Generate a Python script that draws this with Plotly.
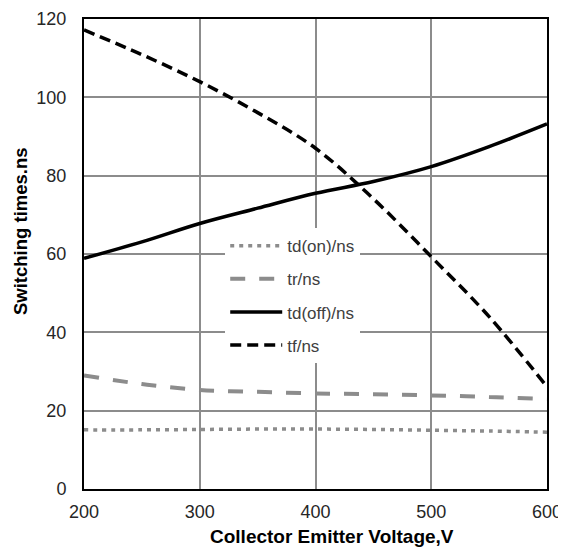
import plotly.graph_objects as go

voltage = [200, 250, 300, 350, 400, 450, 500, 550, 600]
td_on = [15.1, 15.1, 15.2, 15.3, 15.3, 15.2, 15.0, 14.8, 14.5]
tr = [29.0, 26.8, 25.3, 24.8, 24.4, 24.2, 23.9, 23.5, 23.0]
td_off = [58.9, 63.1, 67.8, 71.7, 75.5, 78.5, 82.3, 87.4, 93.2]
tf = [117.2, 110.9, 104.0, 96.1, 87.0, 74.1, 59.3, 44.0, 26.1]

x_title = "Collector Emitter Voltage,V"
y_title = "Switching times.ns"

series = [
    ("td(on)/ns", td_on, "#8c8c8c", "4px,5px", 3.5),
    ("tr/ns", tr, "#8c8c8c", "15px,14px", 4),
    ("td(off)/ns", td_off, "#000000", "solid", 3.5),
    ("tf/ns", tf, "#000000", "11px,6px", 3.5),
]

fig = go.Figure()
for i, (name, vals, color, dash, w) in enumerate(series):
    fig.add_trace(go.Scatter(
        x=voltage, y=vals, name=name, mode="lines",
        line=dict(color=color, width=w, dash=dash, shape="spline", smoothing=1.0),
        legendgroup=f"g{i}",
    ))

font_family = "Liberation Sans, Arial, sans-serif"
# page body has an 8px margin, so the figure is sized to the remaining viewport
fig.update_layout(
    width=558, height=539,
    margin=dict(l=76, r=19, t=11, b=58),
    paper_bgcolor="white", plot_bgcolor="white",
    font=dict(family=font_family, color="#262626"),
    showlegend=True,
    legend=dict(
        x=0.305, y=0.555, xanchor="left", yanchor="top",
        bgcolor="white", borderwidth=0,
        font=dict(size=17, color="#404040", family=font_family),
        tracegroupgap=8, itemwidth=52,
    ),
    xaxis=dict(
        range=[200, 600], dtick=100, tick0=200, automargin=False,
        showgrid=True, gridcolor="#8c8c8c", gridwidth=1.5,
        showline=True, linecolor="black", linewidth=2, mirror=True,
        zeroline=False, ticks="", ticklabelstandoff=5,
        tickfont=dict(size=18, color="#262626"),
    ),
    yaxis=dict(
        range=[0, 120], dtick=20, tick0=0, automargin=False,
        showgrid=True, gridcolor="#8c8c8c", gridwidth=1.5,
        showline=True, linecolor="black", linewidth=2, mirror=True,
        zeroline=False, ticks="", ticklabelstandoff=12,
        tickfont=dict(size=18, color="#262626"),
    ),
    annotations=[
        dict(text=f"<b>{x_title}</b>", xref="paper", yref="paper",
             x=0.536, y=-0.102, xanchor="center", yanchor="middle",
             showarrow=False, font=dict(size=19, color="#000000", family=font_family)),
        dict(text=f"<b>{y_title}</b>", xref="paper", yref="paper",
             x=-0.136, y=0.549, xanchor="center", yanchor="middle", textangle=-90,
             showarrow=False, font=dict(size=18.5, color="#000000", family=font_family)),
    ],
)

fig.write_html("out.html")
